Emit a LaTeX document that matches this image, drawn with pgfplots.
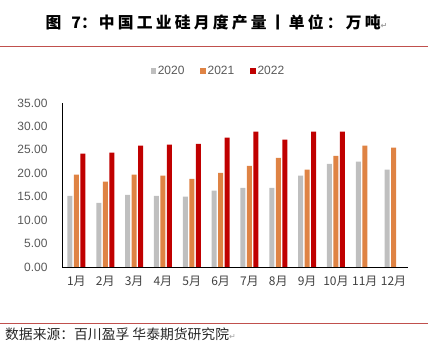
\documentclass[border=0pt]{standalone}
\usepackage{fontspec}
\setmainfont{Liberation Sans}
\newfontfamily\cjk{Noto Sans CJK SC}
\newfontfamily\dejavu{DejaVu Sans}
\usepackage{pgfplots}
\pgfplotsset{compat=1.18}
\definecolor{c20}{HTML}{BFBFBF}
\definecolor{c21}{HTML}{DF8344}
\definecolor{c22}{HTML}{C00000}
\definecolor{rline}{HTML}{C0504D}
\definecolor{tickc}{HTML}{595959}
\definecolor{monc}{HTML}{404040}
\definecolor{retc}{HTML}{A0A0A0}
\newcommand\chsp{\hspace{3.2bp}}
\begin{document}
\begin{tikzpicture}
\useasboundingbox (0bp,0bp) rectangle (428bp,348bp);
\draw[rline, line width=1bp] (0bp,301bp) -- (428bp,301bp);
\draw[rline, line width=1bp] (0bp,24bp) -- (428bp,24bp);
\node[inner sep=0, anchor=west, font=\cjk\bfseries\fontsize{15.8bp}{16bp}\selectfont] at (45.5bp,326bp) {图\hspace{10bp}7：\hspace{2bp}中\chsp{}国\chsp{}工\chsp{}业\chsp{}硅\chsp{}月\chsp{}度\chsp{}产\chsp{}量\chsp{}丨\chsp{}单\chsp{}位\chsp{}：\chsp{}万\chsp{}吨{\dejavu\fontsize{8bp}{8bp}\selectfont\color{retc}↵}};
\node[inner sep=0, anchor=west, font=\cjk\fontsize{13.8bp}{14bp}\selectfont, text={black!85}] at (5bp,14bp) {数据来源：百川盈孚 华泰期货研究院{\dejavu\fontsize{8bp}{8bp}\selectfont\color{retc}↵}};
\begin{axis}[
  at={(62bp,81bp)}, anchor=south west, scale only axis,
  width=346bp, height=164bp,
  ybar=1.5bp, bar width=5bp,
  xmin=0.5, xmax=12.5, ymin=0, ymax=35,
  xtick={1,2,3,4,5,6,7,8,9,10,11,12},
  xticklabels={1月,2月,3月,4月,5月,6月,7月,8月,9月,10月,11月,12月},
  ytick={0,5,10,15,20,25,30,35},
  axis x line*=bottom, axis y line*=left,
  major tick length=0pt,
  axis line style={black, line width=0.9bp},
  yticklabel style={font=\fontsize{12bp}{12bp}\selectfont, text=tickc, xshift=-11bp},
  xticklabel style={font=\cjk\fontsize{12bp}{12bp}\selectfont, text=monc, yshift=-6bp},
  /pgf/number format/.cd, fixed, fixed zerofill, precision=2, assume math mode=true,
  /pgfplots/.cd,
  legend style={at={(0.452,1.195)}, anchor=center, draw=none, fill=none,
    legend columns=3, font=\fontsize{12bp}{12bp}\selectfont, text=tickc,
    inner sep=0pt, /tikz/every even column/.append style={column sep=14bp}},
  legend image code/.code={\fill[#1] (0bp,-2.6bp) rectangle (5.2bp,2.6bp);},
]
\addplot[fill=c20, draw=none] coordinates {(1,15.2)(2,13.7)(3,15.4)(4,15.2)(5,15.0)(6,16.3)(7,16.9)(8,16.9)(9,19.5)(10,22.0)(11,22.5)(12,20.8)};
\addplot[fill=c21, draw=none] coordinates {(1,19.7)(2,18.2)(3,19.7)(4,19.5)(5,18.8)(6,20.1)(7,21.6)(8,23.3)(9,20.8)(10,23.7)(11,25.9)(12,25.5)};
\addplot[fill=c22, draw=none] coordinates {(1,24.2)(2,24.4)(3,25.9)(4,26.1)(5,26.3)(6,27.6)(7,28.9)(8,27.2)(9,28.9)(10,28.9)};
\legend{2020,2021,2022}
\end{axis}
\end{tikzpicture}
\end{document}
